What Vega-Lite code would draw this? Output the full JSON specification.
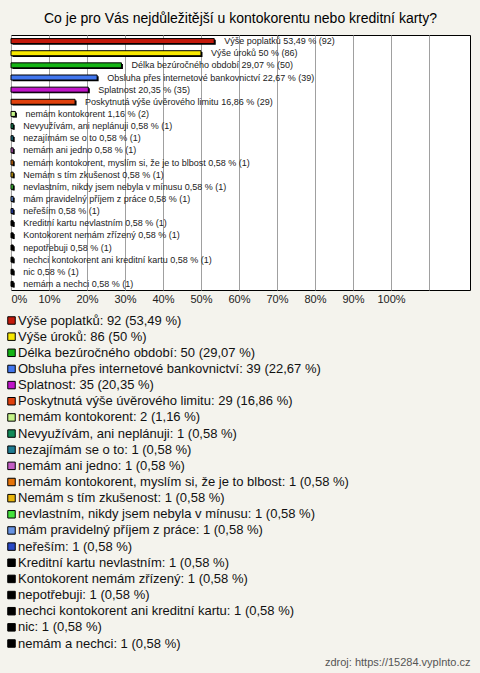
{
  "$schema": "https://vega.github.io/schema/vega-lite/v6.json",
  "width": 459,
  "height": 255,
  "autosize": {"type": "none"},
  "padding": {"left": 11, "top": 35, "right": 10, "bottom": 383},
  "background": "#f4f3ed",
  "title": {
    "text": "Co je pro Vás nejdůležitější u kontokorentu nebo kreditní karty?",
    "font": "Liberation Sans",
    "fontSize": 14,
    "fontWeight": "normal",
    "color": "#000000",
    "anchor": "middle",
    "frame": "group",
    "baseline": "alphabetic",
    "offset": 12,
    "dy": 14
  },
  "data": {
    "values": [
      {"order": 1, "cat": "Výše poplatků", "pct": 53.49, "n": 92, "label": "Výše poplatků 53,49 % (92)", "legend": "Výše poplatků: 92 (53,49 %)"},
      {"order": 2, "cat": "Výše úroků", "pct": 50, "n": 86, "label": "Výše úroků 50 % (86)", "legend": "Výše úroků: 86 (50 %)"},
      {"order": 3, "cat": "Délka bezúročného období", "pct": 29.07, "n": 50, "label": "Délka bezúročného období 29,07 % (50)", "legend": "Délka bezúročného období: 50 (29,07 %)"},
      {"order": 4, "cat": "Obsluha přes internetové bankovnictví", "pct": 22.67, "n": 39, "label": "Obsluha přes internetové bankovnictví 22,67 % (39)", "legend": "Obsluha přes internetové bankovnictví: 39 (22,67 %)"},
      {"order": 5, "cat": "Splatnost", "pct": 20.35, "n": 35, "label": "Splatnost 20,35 % (35)", "legend": "Splatnost: 35 (20,35 %)"},
      {"order": 6, "cat": "Poskytnutá výše úvěrového limitu", "pct": 16.86, "n": 29, "label": "Poskytnutá výše úvěrového limitu 16,86 % (29)", "legend": "Poskytnutá výše úvěrového limitu: 29 (16,86 %)"},
      {"order": 7, "cat": "nemám kontokorent", "pct": 1.16, "n": 2, "label": "nemám kontokorent 1,16 % (2)", "legend": "nemám kontokorent: 2 (1,16 %)"},
      {"order": 8, "cat": "Nevyužívám, ani neplánuji", "pct": 0.58, "n": 1, "label": "Nevyužívám, ani neplánuji 0,58 % (1)", "legend": "Nevyužívám, ani neplánuji: 1 (0,58 %)"},
      {"order": 9, "cat": "nezajímám se o to", "pct": 0.58, "n": 1, "label": "nezajímám se o to 0,58 % (1)", "legend": "nezajímám se o to: 1 (0,58 %)"},
      {"order": 10, "cat": "nemám ani jedno", "pct": 0.58, "n": 1, "label": "nemám ani jedno 0,58 % (1)", "legend": "nemám ani jedno: 1 (0,58 %)"},
      {"order": 11, "cat": "nemám kontokorent, myslím si, že je to blbost", "pct": 0.58, "n": 1, "label": "nemám kontokorent, myslím si, že je to blbost 0,58 % (1)", "legend": "nemám kontokorent, myslím si, že je to blbost: 1 (0,58 %)"},
      {"order": 12, "cat": "Nemám s tím zkušenost", "pct": 0.58, "n": 1, "label": "Nemám s tím zkušenost 0,58 % (1)", "legend": "Nemám s tím zkušenost: 1 (0,58 %)"},
      {"order": 13, "cat": "nevlastním, nikdy jsem nebyla v mínusu", "pct": 0.58, "n": 1, "label": "nevlastním, nikdy jsem nebyla v mínusu 0,58 % (1)", "legend": "nevlastním, nikdy jsem nebyla v mínusu: 1 (0,58 %)"},
      {"order": 14, "cat": "mám pravidelný příjem z práce", "pct": 0.58, "n": 1, "label": "mám pravidelný příjem z práce 0,58 % (1)", "legend": "mám pravidelný příjem z práce: 1 (0,58 %)"},
      {"order": 15, "cat": "neřeším", "pct": 0.58, "n": 1, "label": "neřeším 0,58 % (1)", "legend": "neřeším: 1 (0,58 %)"},
      {"order": 16, "cat": "Kreditní kartu nevlastním", "pct": 0.58, "n": 1, "label": "Kreditní kartu nevlastním 0,58 % (1)", "legend": "Kreditní kartu nevlastním: 1 (0,58 %)"},
      {"order": 17, "cat": "Kontokorent nemám zřízený", "pct": 0.58, "n": 1, "label": "Kontokorent nemám zřízený 0,58 % (1)", "legend": "Kontokorent nemám zřízený: 1 (0,58 %)"},
      {"order": 18, "cat": "nepotřebuji", "pct": 0.58, "n": 1, "label": "nepotřebuji 0,58 % (1)", "legend": "nepotřebuji: 1 (0,58 %)"},
      {"order": 19, "cat": "nechci kontokorent ani kreditní kartu", "pct": 0.58, "n": 1, "label": "nechci kontokorent ani kreditní kartu 0,58 % (1)", "legend": "nechci kontokorent ani kreditní kartu: 1 (0,58 %)"},
      {"order": 20, "cat": "nic", "pct": 0.58, "n": 1, "label": "nic 0,58 % (1)", "legend": "nic: 1 (0,58 %)"},
      {"order": 21, "cat": "nemám a nechci", "pct": 0.58, "n": 1, "label": "nemám a nechci 0,58 % (1)", "legend": "nemám a nechci: 1 (0,58 %)"}
    ]
  },
  "encoding": {
    "y": {
      "field": "cat",
      "type": "nominal",
      "sort": {"field": "order", "op": "min"},
      "axis": null,
      "scale": {"paddingInner": 0, "paddingOuter": 0}
    }
  },
  "layer": [
    {
      "mark": {"type": "bar", "height": 5, "color": "#000000", "xOffset": 1.5, "yOffset": 1.2},
      "encoding": {
        "x": {
          "field": "pct",
          "type": "quantitative",
          "scale": {"domain": [0, 120.8], "nice": false, "zero": true},
          "axis": {
            "values": [0, 10, 20, 30, 40, 50, 60, 70, 80, 90, 100, 110],
            "grid": true,
            "gridColor": "#a0a0a0",
            "gridWidth": 1,
            "ticks": false,
            "domain": false,
            "labelExpr": "datum.value <= 100 ? datum.value + '%' : ''",
            "labelFont": "Liberation Sans",
            "labelFontSize": 11,
            "labelColor": "#222222",
            "labelPadding": 3,
            "labelFlush": true,
            "title": "zdroj: https://15284.vyplnto.cz",
            "titleX": 459,
            "titleY": 372,
            "titleAlign": "right",
            "titleBaseline": "middle",
            "titleFont": "Liberation Sans",
            "titleFontSize": 11,
            "titleFontWeight": "normal",
            "titleColor": "#555555"
          }
        }
      }
    },
    {
      "mark": {"type": "bar", "height": 5, "stroke": "#000000", "strokeWidth": 1},
      "encoding": {
        "x": {"field": "pct", "type": "quantitative"},
        "color": {
          "field": "legend",
          "type": "nominal",
          "scale": {
            "domain": [
              "Výše poplatků: 92 (53,49 %)",
              "Výše úroků: 86 (50 %)",
              "Délka bezúročného období: 50 (29,07 %)",
              "Obsluha přes internetové bankovnictví: 39 (22,67 %)",
              "Splatnost: 35 (20,35 %)",
              "Poskytnutá výše úvěrového limitu: 29 (16,86 %)",
              "nemám kontokorent: 2 (1,16 %)",
              "Nevyužívám, ani neplánuji: 1 (0,58 %)",
              "nezajímám se o to: 1 (0,58 %)",
              "nemám ani jedno: 1 (0,58 %)",
              "nemám kontokorent, myslím si, že je to blbost: 1 (0,58 %)",
              "Nemám s tím zkušenost: 1 (0,58 %)",
              "nevlastním, nikdy jsem nebyla v mínusu: 1 (0,58 %)",
              "mám pravidelný příjem z práce: 1 (0,58 %)",
              "neřeším: 1 (0,58 %)",
              "Kreditní kartu nevlastním: 1 (0,58 %)",
              "Kontokorent nemám zřízený: 1 (0,58 %)",
              "nepotřebuji: 1 (0,58 %)",
              "nechci kontokorent ani kreditní kartu: 1 (0,58 %)",
              "nic: 1 (0,58 %)",
              "nemám a nechci: 1 (0,58 %)"
            ],
            "range": [
              "#c41a0c", "#f8e800", "#14b414", "#4176ee", "#c014c8", "#e0400c",
              "#c4f488", "#128a58", "#1f7c92", "#c45ec4", "#e6740a", "#e8b40a",
              "#44e23c", "#6894e4", "#2848c4", "#000000", "#000000", "#000000",
              "#000000", "#000000", "#000000"
            ]
          },
          "legend": {
            "orient": "none",
            "legendX": -6,
            "legendY": 279,
            "direction": "vertical",
            "columns": 1,
            "title": null,
            "padding": 0,
            "symbolType": "square",
            "symbolSize": 56,
            "symbolStrokeColor": "#000000",
            "symbolStrokeWidth": 1,
            "symbolOpacity": 1,
            "labelFont": "Liberation Sans",
            "labelFontSize": 13,
            "labelColor": "#111111",
            "labelLimit": 470,
            "labelOffset": 0,
            "rowPadding": 2.15
          }
        }
      }
    },
    {
      "mark": {"type": "text", "align": "left", "baseline": "middle", "dx": 10, "font": "Liberation Sans", "fontSize": 9, "color": "#222222"},
      "encoding": {
        "x": {"field": "pct", "type": "quantitative"},
        "text": {"field": "label"}
      }
    }
  ],
  "config": {
    "view": {"stroke": "#000000", "strokeWidth": 1, "fill": "#ffffff"}
  }
}
